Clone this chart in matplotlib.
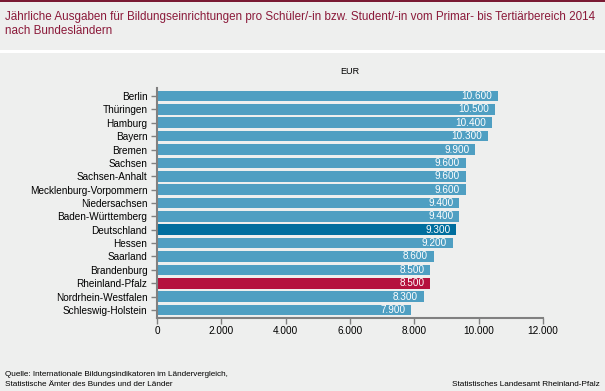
import matplotlib.pyplot as plt
from matplotlib.patches import Rectangle

plt.rcParams['font.family'] = ['Liberation Sans', 'DejaVu Sans']

laender = ['Berlin', 'Thüringen', 'Hamburg', 'Bayern', 'Bremen', 'Sachsen',
           'Sachsen-Anhalt', 'Mecklenburg-Vorpommern', 'Niedersachsen',
           'Baden-Württemberg', 'Deutschland', 'Hessen', 'Saarland',
           'Brandenburg', 'Rheinland-Pfalz', 'Nordrhein-Westfalen',
           'Schleswig-Holstein']
ausgaben = [10600, 10500, 10400, 10300, 9900, 9600, 9600, 9600, 9400, 9400,
            9300, 9200, 8600, 8500, 8500, 8300, 7900]
x_ticks = [0, 2000, 4000, 6000, 8000, 10000, 12000]

BG = '#eeefee'
BAR = '#4f9fc2'
DE = '#006e9e'
RP = '#b5123e'
TITLE = '#8b1a3a'
AXIS = '#808080'


def fmt(v):
    return f'{v:,}'.replace(',', '.')


fig = plt.figure(figsize=(6.05, 3.91), dpi=100, facecolor=BG)
# top line and white separator
fig.patches.append(Rectangle((0, 1 - 2 / 391), 1, 2 / 391, transform=fig.transFigure,
                             facecolor='#7a1a33', edgecolor='none'))
fig.patches.append(Rectangle((0, 1 - 53 / 391), 1, 3 / 391, transform=fig.transFigure,
                             facecolor='white', edgecolor='none'))

ax = fig.add_axes([157 / 605, 1 - 318 / 391, (543 - 157) / 605, (318 - 88) / 391])
ax.set_facecolor(BG)

colors = []
for name in laender:
    if name == 'Deutschland':
        colors.append(DE)
    elif name == 'Rheinland-Pfalz':
        colors.append(RP)
    else:
        colors.append(BAR)

pos = list(range(len(laender)))
ax.barh(pos, ausgaben, height=0.8, color=colors)
for p, v in zip(pos, ausgaben):
    ax.text(v - 180, p, fmt(v), ha='right', va='center', color='white', fontsize=7.2)

ax.set_ylim(len(laender) - 0.4, -0.6)
ax.set_xlim(0, 12000)
ax.set_yticks(pos)
ax.set_yticklabels(laender, fontsize=7.2)
ax.set_xticks(x_ticks)
ax.set_xticklabels([fmt(t) for t in x_ticks], fontsize=7.2)

for s in ['top', 'right']:
    ax.spines[s].set_visible(False)
for s in ['left', 'bottom']:
    ax.spines[s].set_color(AXIS)
    ax.spines[s].set_linewidth(1.5)
ax.tick_params(axis='both', colors=AXIS, labelcolor='black', length=4, width=1)
ax.tick_params(axis='y', pad=3)
ax.tick_params(axis='x', pad=1.5)

fig.text(350 / 605, 1 - 72 / 391, 'EUR', ha='center', va='center', fontsize=6.5)

fig.text(5 / 605, 1 - 17 / 391,
         'Jährliche Ausgaben für Bildungseinrichtungen pro Schüler/-in bzw. Student/-in vom Primar- bis Tertiärbereich 2014',
         ha='left', va='center', fontsize=8.4, color=TITLE)
fig.text(5 / 605, 1 - 31 / 391, 'nach Bundesländern',
         ha='left', va='center', fontsize=8.4, color=TITLE)

fig.text(5 / 605, 1 - 374 / 391,
         'Quelle: Internationale Bildungsindikatoren im Ländervergleich,',
         ha='left', va='center', fontsize=5.9)
fig.text(5 / 605, 1 - 384 / 391,
         'Statistische Ämter des Bundes und der Länder',
         ha='left', va='center', fontsize=5.9)
fig.text(600 / 605, 1 - 384 / 391, 'Statistisches Landesamt Rheinland-Pfalz',
         ha='right', va='center', fontsize=5.9)

fig.savefig('out.png', dpi=100, facecolor=BG)
